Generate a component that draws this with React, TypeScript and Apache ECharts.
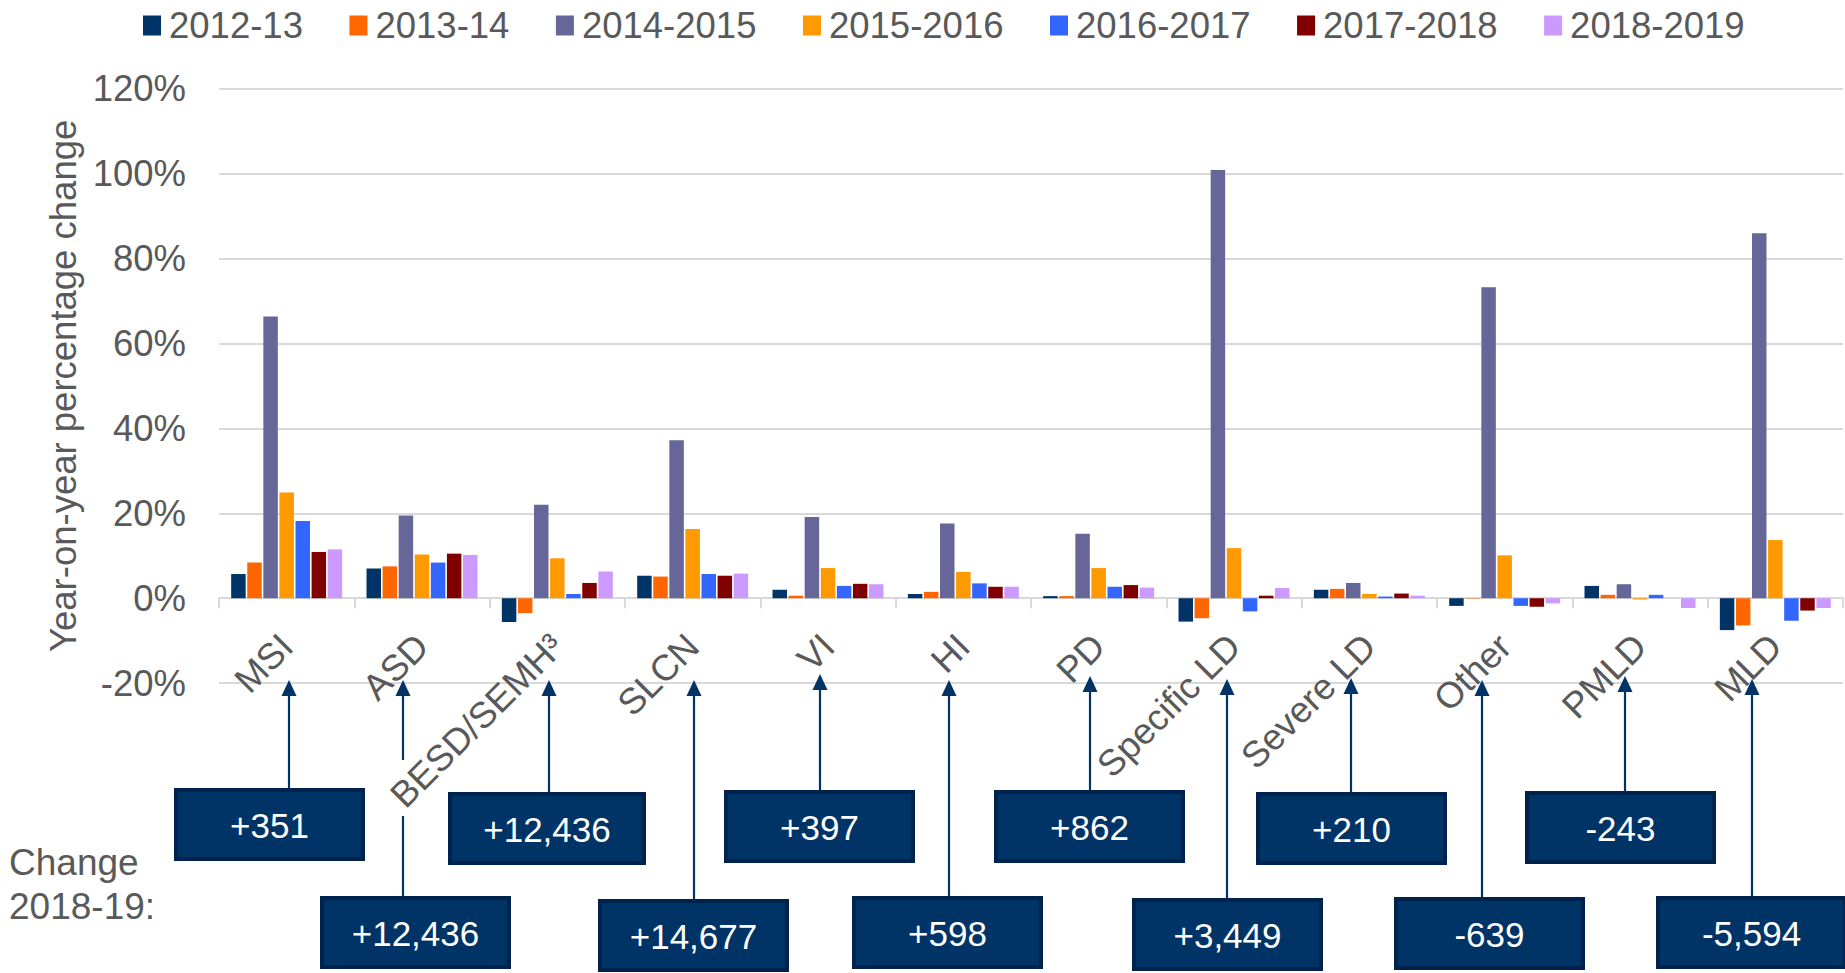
import React, { useEffect, useRef } from "react";
import * as echarts from "echarts";

// ---------- data ----------
const categories = [
  "MSI", "ASD", "BESD/SEMH³", "SLCN", "VI", "HI", "PD",
  "Specific LD", "Severe LD", "Other", "PMLD", "MLD",
];
const seriesNames = ["2012-13", "2013-14", "2014-2015", "2015-2016", "2016-2017", "2017-2018", "2018-2019"];
const s2012_13 = [5.7, 7.0, -5.6, 5.3, 2.0, 1.0, 0.5, -5.5, 2.0, -1.8, 2.9, -7.5];
const s2013_14 = [8.4, 7.5, -3.5, 5.1, 0.6, 1.5, 0.5, -4.7, 2.2, -0.1, 0.8, -6.4];
const s2014_15 = [66.3, 19.5, 22.0, 37.2, 19.1, 17.6, 15.2, 100.8, 3.6, 73.2, 3.3, 85.9];
const s2015_16 = [24.9, 10.3, 9.4, 16.3, 7.1, 6.2, 7.1, 11.8, 1.0, 10.1, -0.3, 13.7];
const s2016_17 = [18.2, 8.4, 1.0, 5.7, 2.9, 3.5, 2.7, -3.1, 0.4, -1.8, 0.8, -5.3];
const s2017_18 = [10.9, 10.5, 3.6, 5.3, 3.4, 2.7, 3.1, 0.6, 1.1, -2.0, 0.0, -2.9];
const s2018_19 = [11.5, 10.2, 6.3, 5.8, 3.3, 2.7, 2.5, 2.4, 0.6, -1.2, -2.3, -2.3];
const change2018_19 = ["+351", "+12,436", "+12,436", "+14,677", "+397", "+598", "+862", "+3,449", "+210", "-639", "-243", "-5,594"];
const yTicks = { min: -20, max: 120, interval: 20 };

// ---------- styles / layout ----------
const colors = ["#003366", "#FF6600", "#666699", "#FF9900", "#3366FF", "#800000", "#CC99FF"];
const FONT = "Arial, 'Liberation Sans', sans-serif";
const GREY = "#595959";
const NAVY = "#003366";
const GRID = { left: 219, right: 2, top: 88.5, bottom: 289.8 };
const CHART_H = 973;

// annotation layout (pixels): arrow x, arrow tip y, box left, box top, box width, optional line gaps
const annLayout = [
  { ax: 289, tip: 680, bx: 176, by: 790, bw: 187 },
  { ax: 403, tip: 680, bx: 322, by: 898, bw: 187, gap: [760, 816] },
  { ax: 549, tip: 680, bx: 450, by: 794, bw: 194 },
  { ax: 694, tip: 680, bx: 600, by: 901, bw: 187 },
  { ax: 820, tip: 674, bx: 726, by: 792, bw: 187 },
  { ax: 949, tip: 680, bx: 854, by: 898, bw: 187 },
  { ax: 1090, tip: 676, bx: 996, by: 792, bw: 187 },
  { ax: 1227, tip: 679, bx: 1134, by: 900, bw: 187 },
  { ax: 1351, tip: 678, bx: 1258, by: 794, bw: 187 },
  { ax: 1482, tip: 680, bx: 1396, by: 899, bw: 187 },
  { ax: 1625, tip: 676, bx: 1527, by: 793, bw: 187 },
  { ax: 1752, tip: 679, bx: 1658, by: 898, bw: 187 },
];
const BOX_H = 69;
const HEAD_H = 16;
const HEAD_W = 15;

export default function App() {
  const ref = useRef<HTMLDivElement>(null);

  useEffect(() => {
    if (!ref.current) return;
    const chart = echarts.init(ref.current, null, { renderer: "svg" });
    const seriesData = [s2012_13, s2013_14, s2014_15, s2015_16, s2016_17, s2017_18, s2018_19];

    // place the category axis on the zero line of the value axis
    const plotH = CHART_H - GRID.top - GRID.bottom;
    const zeroOffset = -((0 - yTicks.min) / (yTicks.max - yTicks.min)) * plotH;

    const graphics: any[] = [];
    annLayout.forEach((a, i) => {
      const lineTop = a.tip + HEAD_H - 1;
      const segs: [number, number][] = a.gap
        ? [[lineTop, a.gap[0]], [a.gap[1], a.by]]
        : [[lineTop, a.by]];
      segs.forEach(([y1, y2]) => {
        graphics.push({
          type: "line",
          shape: { x1: a.ax, y1, x2: a.ax, y2 },
          style: { stroke: NAVY, lineWidth: 2.2 },
          z: 10,
        });
      });
      graphics.push({
        type: "polygon",
        shape: { points: [[a.ax, a.tip], [a.ax - HEAD_W / 2, a.tip + HEAD_H], [a.ax + HEAD_W / 2, a.tip + HEAD_H]] },
        style: { fill: NAVY },
        z: 10,
      });
      graphics.push({
        type: "rect",
        shape: { x: a.bx, y: a.by, width: a.bw, height: BOX_H },
        style: { fill: NAVY, stroke: "#00234d", lineWidth: 4 },
        z: 11,
      });
      graphics.push({
        type: "text",
        x: a.bx + a.bw / 2,
        y: a.by + BOX_H / 2 + 1,
        style: {
          text: change2018_19[i],
          fill: "#ffffff",
          fontSize: 35,
          fontFamily: FONT,
          align: "center",
          verticalAlign: "middle",
        },
        z: 12,
      });
    });
    graphics.push({
      type: "text",
      x: 9,
      y: 862,
      style: { text: "Change", fill: GREY, fontSize: 37, fontFamily: FONT, align: "left", verticalAlign: "middle" },
    });
    graphics.push({
      type: "text",
      x: 9,
      y: 906,
      style: { text: "2018-19:", fill: GREY, fontSize: 37, fontFamily: FONT, align: "left", verticalAlign: "middle" },
    });

    const option: any = {
      animation: false,
      backgroundColor: "#ffffff",
      color: colors,
      textStyle: { fontFamily: FONT },
      legend: {
        data: seriesNames,
        left: 138,
        top: 2,
        icon: "rect",
        itemWidth: 18,
        itemHeight: 20,
        itemGap: 46.5,
        textStyle: { fontSize: 36.5, color: GREY, fontFamily: FONT, padding: [0, 0, 0, 3] },
      },
      grid: { ...GRID, containLabel: false },
      xAxis: {
        type: "category",
        data: categories,
        offset: zeroOffset,
        axisLine: { show: true, onZero: false, lineStyle: { color: "#d9d9d9", width: 2 } },
        axisTick: { show: true, length: 10, lineStyle: { color: "#d9d9d9", width: 2 } },
        axisLabel: {
          interval: 0,
          rotate: 45,
          margin: 42,
          fontSize: 36.5,
          color: GREY,
          fontFamily: FONT,
        },
        splitLine: { show: false },
      },
      yAxis: {
        type: "value",
        min: yTicks.min,
        max: yTicks.max,
        interval: yTicks.interval,
        name: "Year-on-year percentage change",
        nameLocation: "middle",
        nameGap: 134,
        nameTextStyle: { fontSize: 36.5, color: GREY, fontFamily: FONT },
        axisLine: { show: false },
        axisTick: { show: false },
        axisLabel: {
          formatter: "{value}%",
          fontSize: 36.5,
          color: GREY,
          margin: 33,
          fontFamily: FONT,
        },
        splitLine: { lineStyle: { color: "#d9d9d9", width: 2 } },
      },
      series: seriesNames.map((name, i) => ({
        name,
        type: "bar",
        data: seriesData[i],
        barGap: "11%",
        barCategoryGap: "18%",
        itemStyle: { color: colors[i] },
      })),
      graphic: graphics,
    };
    chart.setOption(option);
    return () => chart.dispose();
  }, []);

  return (
    <div
      ref={ref}
      style={{ position: "fixed", left: 0, top: 0, width: 1845, height: CHART_H, background: "#fff" }}
    />
  );
}
